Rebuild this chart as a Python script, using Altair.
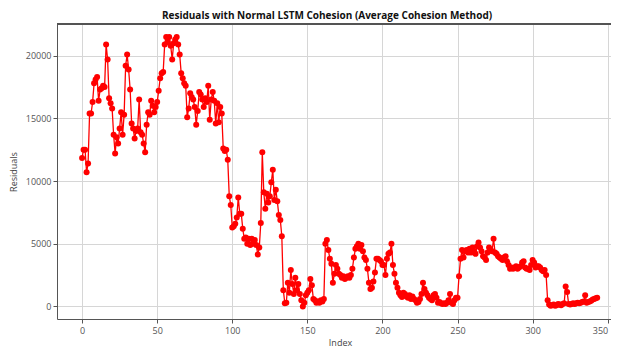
import altair as alt
import pandas as pd

title_text = "Residuals with Normal LSTM Cohesion (Average Cohesion Method)"
x_label = "Index"
y_label = "Residuals"
x_ticks = [0, 50, 100, 150, 200, 250, 300, 350]
y_ticks = [0, 5000, 10000, 15000, 20000]

res_000_049 = [11850, 12500, 12500, 10700, 11400, 15400, 15400, 16300, 17800, 18100,
               18300, 16400, 17300, 17400, 17600, 17500, 20900, 19700, 16600, 16200,
               15800, 13700, 12200, 13500, 13000, 14200, 15500, 13700, 15300, 19200,
               20100, 18900, 17300, 14600, 14200, 13400, 14000, 14200, 16500, 13900,
               13700, 13000, 12300, 14500, 15500, 15300, 16400, 16000, 15500, 15900]
res_050_099 = [16300, 17200, 18200, 18600, 18700, 20900, 21500, 21100, 21500, 20800,
               19700, 21000, 21300, 21500, 20900, 20100, 18600, 18200, 17800, 17600,
               15100, 15800, 17000, 16700, 16500, 15900, 14500, 15600, 17100, 16900,
               16500, 15900, 16600, 16300, 17600, 14900, 16500, 17100, 16400, 14600,
               16200, 14700, 15900, 15400, 12600, 12400, 12500, 11700, 8800, 8100]
res_100_149 = [6300, 6400, 6600, 7100, 8700, 7400, 7400, 6200, 5400, 5500,
               5000, 5400, 4900, 5400, 5000, 5300, 4900, 4150, 4700, 6660,
               12300, 9100, 7800, 9000, 8300, 8800, 9900, 10900, 8500, 9300,
               8400, 7300, 6900, 5600, 1300, 260, 300, 1900, 1100, 2900,
               1800, 1000, 2300, 1300, 1800, 1000, 500, 0, 300, 900]
res_150_199 = [1100, 1300, 2200, 1700, 600, 500, 300, 400, 300, 500,
               400, 600, 5000, 5300, 4500, 3800, 3400, 1900, 2600, 3300,
               3000, 2600, 2500, 2300, 2400, 2200, 2300, 2400, 2300, 2500,
               3000, 3900, 4600, 4800, 5000, 4600, 4900, 4400, 3900, 3700,
               3000, 1900, 1400, 1500, 2000, 2700, 3800, 3800, 3700, 3600]
res_200_249 = [3300, 3300, 2500, 3800, 4200, 4300, 5000, 3300, 2600, 1900,
               1500, 1100, 900, 750, 1100, 1000, 800, 700, 900, 600,
               800, 600, 500, 300, 350, 600, 1000, 1900, 1400, 1100,
               900, 700, 600, 500, 900, 1000, 700, 300, 350, 250,
               200, 250, 200, 300, 500, 1000, 300, 200, 500, 700]
res_250_299 = [700, 2400, 3800, 4500, 3900, 4400, 4500, 4300, 4600, 4300,
               4700, 4400, 4200, 4800, 5100, 4700, 4400, 4000, 3900, 3700,
               4300, 4700, 4500, 4400, 5400, 4300, 4200, 4000, 3900, 3800,
               3700, 3900, 4000, 3600, 3300, 3000, 3100, 3000, 3100, 3200,
               3000, 3100, 3200, 3500, 3600, 3100, 3000, 3000, 2900, 3300]
res_300_343 = [3700, 3500, 3100, 3200, 3200, 3100, 2900, 2800, 2900, 2500,
               500, 150, 50, 100, 150, 50, 100, 200, 150, 100,
               200, 250, 1600, 1150, 200, 150, 200, 250, 200, 250,
               300, 250, 300, 350, 400, 900, 300, 350, 400, 450,
               550, 600, 650, 700]

residuals = res_000_049 + res_050_099 + res_100_149 + res_150_199 + res_200_249 + res_250_299 + res_300_343
df = pd.DataFrame({"Index": list(range(len(residuals))), "Residuals": residuals})

FONT = "Open Sans"
W, H = 554, 295

x_enc = alt.X("Index:Q",
              scale=alt.Scale(domain=[-16.7, 352.2], nice=False, zero=False),
              axis=alt.Axis(values=x_ticks, title=x_label, format="d", grid=True,
                            titleX=283, titlePadding=3, labelPadding=3, labelFlush=5))
y_enc = alt.Y("Residuals:Q",
              scale=alt.Scale(domain=[-1000, 22530], nice=False, zero=False),
              axis=alt.Axis(values=y_ticks, title=y_label, format="d", grid=True,
                            titlePadding=7, labelPadding=2))

line = alt.Chart(df).mark_line(color="#ff0000", strokeWidth=1.3).encode(x=x_enc, y=y_enc)
pts = alt.Chart(df).mark_circle(color="#ff0000", size=36, opacity=1).encode(x="Index:Q", y="Residuals:Q")
top_border = alt.Chart(df).mark_rule(color="#555555", strokeWidth=1).encode(
    x=alt.value(0), x2=alt.value(W), y=alt.value(0))

chart = alt.layer(line, pts, top_border).properties(
    width=W, height=H,
    title=alt.TitleParams(title_text, anchor="middle", dx=-7, offset=3, fontSize=10,
                          fontWeight="bold", font=FONT, color="#111111"),
    autosize=alt.AutoSizeParams(type="none"),
    padding={"left": 49, "top": 16, "right": 0, "bottom": 28},
).configure_view(stroke=None).configure_axis(
    labelFont=FONT, titleFont=FONT, labelFontSize=9, titleFontSize=9,
    labelColor="#555555", titleColor="#444444", titleFontWeight="normal",
    domainColor="#555555", domainWidth=1, tickColor="#555555", tickSize=4,
    gridColor="#d6d6d6", gridWidth=1,
)

chart.save("out.html", embed_options={"renderer": "svg", "actions": False})
